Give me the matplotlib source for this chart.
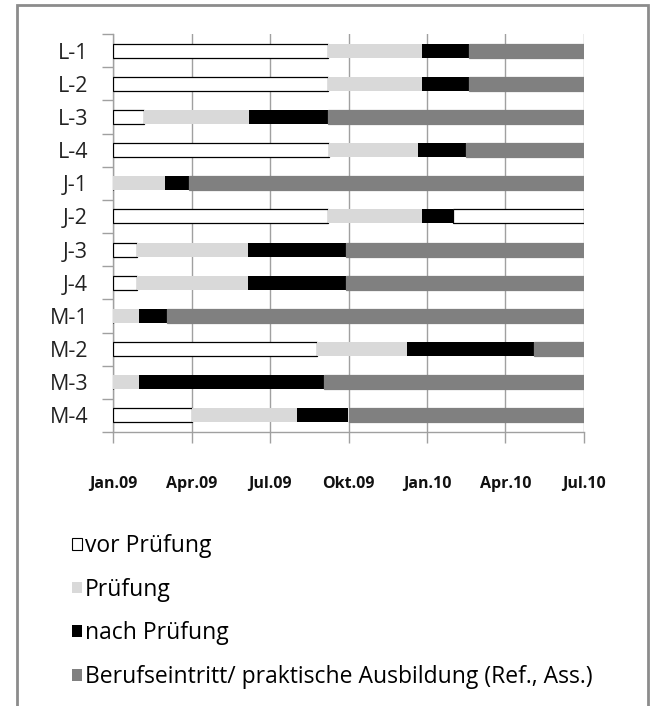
import matplotlib.pyplot as plt
import matplotlib.patches as mpatches
import numpy as np

# months since Jan 2009
persons = ["L-1", "L-2", "L-3", "L-4", "J-1", "J-2", "J-3", "J-4", "M-1", "M-2", "M-3", "M-4"]
vor_pruefung = [8.2, 8.2, 1.2, 8.25, 0.0, 8.2, 0.9, 0.9, 0.0, 7.8, 0.0, 3.0]
pruefung = [3.6, 3.6, 4.0, 3.4, 2.0, 3.6, 4.25, 4.25, 1.0, 3.45, 1.0, 4.05]
nach_pruefung = [1.8, 1.8, 3.0, 1.85, 0.9, 1.2, 3.75, 3.75, 1.05, 4.85, 7.05, 1.95]
beruf = [4.4, 4.4, 9.8, 4.5, 15.1, 5.0, 9.1, 9.1, 15.95, 1.9, 9.95, 9.0]
tick_labels = ["Jan.09", "Apr.09", "Jul.09", "Okt.09", "Jan.10", "Apr.10", "Jul.10"]

plt.rcParams['font.family'] = ['Open Sans', 'DejaVu Sans']

fig = plt.figure(figsize=(6.52, 7.06), dpi=100)
ax = fig.add_axes([113/652, 1 - 432/706, 471/652, 398/706])

y = np.arange(len(persons))
h = 0.42
grid_c = "#a0a0a0"

left = np.zeros(len(persons))
ax.barh(y, vor_pruefung, left=left, height=h, color="white", edgecolor="black", linewidth=0.9, zorder=3)
left += vor_pruefung
ax.barh(y, pruefung, left=left, height=h, color="#d9d9d9", linewidth=0, zorder=3)
left += pruefung
ax.barh(y, nach_pruefung, left=left, height=h, color="black", linewidth=0, zorder=3)
left += nach_pruefung
beruf_col = ["white" if p == "J-2" else "#808080" for p in persons]
beruf_edge = ["black" if p == "J-2" else "#808080" for p in persons]
ax.barh(y, beruf, left=left, height=h, color=beruf_col, edgecolor=beruf_edge, linewidth=0.9, zorder=3)

ax.set_xlim(0, 18)
ax.set_ylim(len(persons) - 0.5, -0.5)
ax.set_xticks(np.arange(0, 19, 3))
ax.set_xticklabels(tick_labels, fontsize=11.5, fontweight="bold", color="#111111")
ax.tick_params(axis="x", length=8, width=1, color=grid_c, pad=24)
ax.set_yticks(np.arange(-0.5, len(persons), 1))
ax.set_yticklabels([])
ax.set_yticks(y, minor=True)
ax.set_yticklabels(persons, minor=True, fontsize=15.5, color="#222222")
ax.tick_params(axis="y", which="major", length=8, width=1, color=grid_c)
ax.tick_params(axis="y", which="minor", length=0, pad=18)
ax.grid(axis="x", color=grid_c, linewidth=1, zorder=0)
ax.set_axisbelow(True)
for s in ["top", "right"]:
    ax.spines[s].set_visible(False)
for s in ["left", "bottom"]:
    ax.spines[s].set_color(grid_c)
    ax.spines[s].set_linewidth(1)

handles = [
    mpatches.Patch(facecolor="white", edgecolor="black", linewidth=0.8, label="vor Prüfung"),
    mpatches.Patch(facecolor="#d9d9d9", label="Prüfung"),
    mpatches.Patch(facecolor="black", label="nach Prüfung"),
    mpatches.Patch(facecolor="#808080", label="Berufseintritt/ praktische Ausbildung (Ref., Ass.)"),
]
fig.legend(handles=handles, loc="upper left", bbox_to_anchor=(72/652, 1 - 534/706),
           frameon=False, fontsize=16.5, handlelength=0.42, handleheight=0.42,
           handletextpad=0.15, labelspacing=0.86, borderaxespad=0, borderpad=0)

frame = mpatches.Rectangle((17/652, -0.1), 631/652, 1.1 - 5/706, transform=fig.transFigure,
                           fill=False, edgecolor="#8c8c8c", linewidth=2)
fig.patches.append(frame)

fig.savefig("out.png", dpi=100)
